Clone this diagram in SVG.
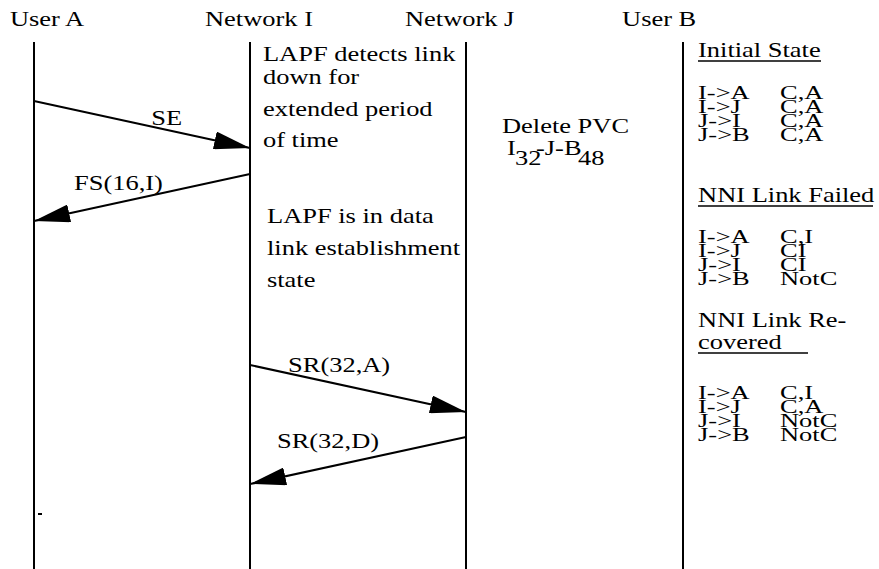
<svg xmlns="http://www.w3.org/2000/svg" width="879" height="569" viewBox="0 0 879 569">
  <style>
    .life { stroke: #000; stroke-width: 2; fill: none; }
    .msg { stroke: #000; stroke-width: 2; fill: none; marker-end: url(#head); }
    .ul { stroke: #000; stroke-width: 1.3; }
  </style>
  <defs>
    <marker id="head" markerUnits="userSpaceOnUse" markerWidth="36" markerHeight="18" refX="36" refY="9" orient="auto">
      <path d="M0,0 L36,9 L0,18 z" fill="#000"/>
    </marker>
  </defs>
  <rect width="879" height="569" fill="#fff"/>

  <!-- lifelines -->
  <g id="userA">
    <line class="life" x1="34" y1="42" x2="34" y2="569"/>
    <rect x="38" y="513" width="4" height="2" fill="#000"/>
  </g>
  <g id="networkI">
    <line class="life" x1="250" y1="42" x2="250" y2="569"/>
  </g>
  <g id="networkJ">
    <line class="life" x1="466" y1="42" x2="466" y2="569"/>
  </g>
  <g id="userB">
    <line class="life" x1="683" y1="42" x2="683" y2="569"/>
    <line class="ul" x1="698" y1="61" x2="821" y2="61"/>
    <line class="ul" x1="698" y1="206" x2="873" y2="206"/>
    <line class="ul" x1="698" y1="353" x2="808" y2="353"/>
  </g>

  <!-- messages -->
  <g id="connectors">
    <line class="msg" x1="34" y1="101" x2="250" y2="148"/>
    <line class="msg" x1="250" y1="174" x2="34" y2="221"/>
    <line class="msg" x1="250" y1="365" x2="466" y2="412"/>
    <line class="msg" x1="466" y1="437" x2="250" y2="484"/>
  </g>

  <!-- labels, set in a widened face -->
  <g id="labels" transform="scale(1.26,1)" font-family="'Liberation Serif', 'Times New Roman', serif" font-size="21" fill="#000">
    <text x="7.9" y="26">User A</text>
    <text x="162.7" y="26">Network I</text>
    <text x="321.4" y="26">Network J</text>
    <text x="493.7" y="26">User B</text>

    <text x="208.7" y="61">LAPF detects link</text>
    <text x="208.7" y="84">down for</text>
    <text x="208.7" y="116">extended period</text>
    <text x="208.7" y="147">of time</text>

    <text x="120" y="125">SE</text>
    <text x="58.7" y="190">FS(16,I)</text>

    <text x="211.9" y="223">LAPF is in data</text>
    <text x="211.9" y="255">link establishment</text>
    <text x="211.9" y="287">state</text>

    <text x="228.6" y="372">SR(32,A)</text>
    <text x="219.8" y="448">SR(32,D)</text>

    <text x="398.4" y="133">Delete PVC</text>
    <text x="402.4" y="155">I</text>
    <text x="408.7" y="165">32</text>
    <text x="425.4" y="155">-J-B</text>
    <text x="458.7" y="165">48</text>

    <!-- state table headings -->
    <text x="554" y="57">Initial State</text>
    <text x="554" y="202">NNI Link Failed</text>
    <text x="554" y="327">NNI Link Re-</text>
    <text x="554" y="349">covered</text>
  </g>

  <!-- state table rows: same width, set a little shorter -->
  <g id="stateRows" transform="scale(1.357,1)" font-family="'Liberation Serif', 'Times New Roman', serif" font-size="19.5" fill="#000">
    <text x="514.4" y="99">I-&gt;A</text><text x="574.8" y="99">C,A</text>
    <text x="514.4" y="113">I-&gt;J</text><text x="574.8" y="113">C,A</text>
    <text x="514.4" y="127">J-&gt;I</text><text x="574.8" y="127">C,A</text>
    <text x="514.4" y="141">J-&gt;B</text><text x="574.8" y="141">C,A</text>

    <text x="514.4" y="243">I-&gt;A</text><text x="574.8" y="243">C,I</text>
    <text x="514.4" y="257">I-&gt;J</text><text x="574.8" y="257">CI</text>
    <text x="514.4" y="271">J-&gt;I</text><text x="574.8" y="271">CI</text>
    <text x="514.4" y="285">J-&gt;B</text><text x="574.8" y="285">NotC</text>

    <text x="514.4" y="399">I-&gt;A</text><text x="574.8" y="399">C,I</text>
    <text x="514.4" y="413">I-&gt;J</text><text x="574.8" y="413">C,A</text>
    <text x="514.4" y="427">J-&gt;I</text><text x="574.8" y="427">NotC</text>
    <text x="514.4" y="441">J-&gt;B</text><text x="574.8" y="441">NotC</text>
  </g>
</svg>
